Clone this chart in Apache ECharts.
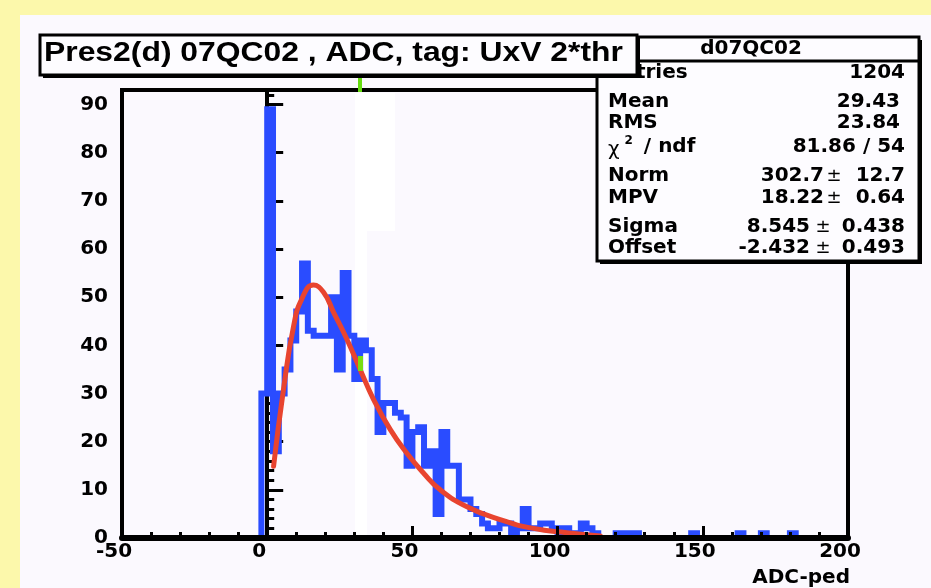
<!DOCTYPE html>
<html>
<head>
<meta charset="utf-8">
<script src="https://cdn.jsdelivr.net/npm/echarts@6/dist/echarts.min.js"></script>
<style>
  html, body { margin: 0; padding: 0; background: #fcf8ab; }
  #histChart { width: 931px; height: 588px; }
</style>
</head>
<body>
<div id="histChart"></div>
<script>
// histogram: 2-unit bins, first bin starts at -2
const binWidth = 2;
const firstBin = -2;
const counts = [
  30, 89, 18, 30, 35, 41, 47, 57, 43, 42,
  42, 42, 50, 35, 55, 42, 33, 41, 39, 33,
  22, 28, 28, 26, 25, 15, 22, 23, 15, 18,
  5, 22, 15, 15, 8, 8, 6, 5, 3, 2,
  2, 3, 3, 1, 2, 6, 2, 2, 3, 3,
  2, 1, 2, 1, 0, 3, 2, 1, 0, 0,
  0, 1, 1, 1, 1, 0, 0, 0, 0, 0,
  0, 0, 0, 0, 1, 0, 0, 0, 0, 0,
  0, 0, 1, 0, 0, 0, 1, 0, 0, 0,
  0, 1
];

// Landau fit curve
const fitX = [2.2, 5.6, 9.1, 11.9, 15.9, 19.4, 22.9, 27.4, 32, 36.6, 42.4, 48.1, 53.8, 59.6, 68.8, 80.2, 91.7, 103.2, 114.7];
const fitY = [14.9, 30.8, 44, 49.6, 52.5, 51, 46.8, 41.3, 35, 28.8, 22.5, 17.6, 13.5, 10, 6.5, 3.8, 2, 1.1, 0.4];

const xTicks = [-50, 0, 50, 100, 150, 200];
const yTicks = [0, 10, 20, 30, 40, 50, 60, 70, 80, 90];

const titleText = "Pres2(d) 07QC02 , ADC, tag: UxV 2*thr";
const statName = "d07QC02";
const statRows = [
  ["Entries", "1204"],
  ["Mean", "29.43"],
  ["RMS", "23.84"],
  ["chi", "81.86 / 54"],
  ["Norm", "302.7", "12.7"],
  ["MPV", "18.22", "0.64"],
  ["Sigma", "8.545", "0.438"],
  ["Offset", "-2.432", "0.493"]
];

const FONT = "DejaVu Sans";
const BLUE = "#2a4cff";
const RED = "#e8442f";

// build step outline points
const histData = [[firstBin, 0]];
counts.forEach((c, i) => {
  histData.push([firstBin + i * binWidth, c]);
});
histData.push([firstBin + counts.length * binWidth, 0]);

const fitData = fitX.map((x, i) => [x, fitY[i]]);

// stats box graphics
const rowY = [73, 102, 123, 147, 176, 198, 227, 248];
const statGraphics = [];
statGraphics.push({
  type: "rect", z: 10,
  shape: { x: 600, y: 40, width: 322, height: 224 },
  style: { fill: "#000" }
});
statGraphics.push({
  type: "rect", z: 11,
  shape: { x: 597, y: 37, width: 322, height: 224 },
  style: { fill: "#fdfcff", stroke: "#000", lineWidth: 3 }
});
statGraphics.push({
  type: "line", z: 12,
  shape: { x1: 597, y1: 61, x2: 919, y2: 61 },
  style: { stroke: "#000", lineWidth: 3 }
});
statGraphics.push({
  type: "text", z: 12,
  style: { text: statName, x: 751, y: 49, font: "bold 20px '" + FONT + "'", fill: "#000", align: "center", verticalAlign: "middle" }
});
statRows.forEach((r, i) => {
  const y = rowY[i];
  const f = "bold 20px '" + FONT + "'";
  if (r[0] === "chi") {
    statGraphics.push({
      type: "text", z: 12,
      style: {
        text: "{g|χ}{s|2}{n| / ndf}", x: 608, y: y, align: "left", verticalAlign: "middle",
        rich: {
          g: { font: "20px '" + FONT + "'", fill: "#000", padding: [6, 0, 0, 0] },
          s: { font: "bold 12px '" + FONT + "'", fill: "#000", padding: [0, 4, 12, 5] },
          n: { font: f, fill: "#000" }
        }
      }
    });
  } else {
    statGraphics.push({
      type: "text", z: 12,
      style: { text: r[0], x: 608, y: y, font: f, fill: "#000", align: "left", verticalAlign: "middle" }
    });
  }
  if (r.length === 2) {
    const right = (i === 1 || i === 2) ? 900 : 905;
    statGraphics.push({
      type: "text", z: 12,
      style: { text: r[1], x: right, y: y, font: f, fill: "#000", align: "right", verticalAlign: "middle" }
    });
  } else {
    const wide = i >= 6;
    statGraphics.push({
      type: "text", z: 12,
      style: { text: r[1], x: wide ? 810 : 824, y: y, font: f, fill: "#000", align: "right", verticalAlign: "middle" }
    });
    statGraphics.push({
      type: "text", z: 12,
      style: { text: "±", x: wide ? 823 : 834, y: y, font: "18px '" + FONT + "'", fill: "#000", align: "center", verticalAlign: "middle" }
    });
    statGraphics.push({
      type: "text", z: 12,
      style: { text: r[2], x: 905, y: y, font: f, fill: "#000", align: "right", verticalAlign: "middle" }
    });
  }
});

const options = {
  animation: false,
  backgroundColor: "#fcf8ab",
  grid: {
    left: 122, right: 83, top: 90, bottom: 50,
    show: true, backgroundColor: "#fbf9fe", borderColor: "#000", borderWidth: 4
  },
  xAxis: {
    type: "value", min: -50, max: 200, interval: 50, z: 5,
    axisLine: { onZero: false, lineStyle: { color: "#000", width: 6 } },
    axisTick: { inside: true, length: 12, lineStyle: { color: "#000", width: 3 } },
    minorTick: { show: true, splitNumber: 5, length: 6, lineStyle: { color: "#000", width: 3 } },
    splitLine: { show: false },
    axisLabel: {
      margin: 4, color: "#000", fontFamily: FONT, fontWeight: "bold", fontSize: 20,
      padding: [0, 16, 0, 0],
      formatter: v => (xTicks.indexOf(v) >= 0 ? String(v) : "")
    }
  },
  yAxis: {
    type: "value", min: 0, max: 93, interval: 10,
    axisLine: { lineStyle: { color: "#000", width: 4 } },
    axisTick: { inside: true, length: 16, lineStyle: { color: "#000", width: 3 } },
    minorTick: { show: true, splitNumber: 5, length: 7, lineStyle: { color: "#000", width: 3 } },
    splitLine: { show: false },
    axisLabel: {
      margin: 14, color: "#000", fontFamily: FONT, fontWeight: "bold", fontSize: 20,
      showMaxLabel: false,
      formatter: v => (yTicks.indexOf(v) >= 0 ? String(v) : "")
    }
  },
  graphic: [
    { type: "rect", z: -1, silent: true, shape: { x: 20, y: 15, width: 911, height: 573 }, style: { fill: "#fbf9fe" } },
    // pale stripe and green specks seen in the original screenshot
    { type: "rect", z: 1, silent: true, shape: { x: 355, y: 93, width: 40, height: 138 }, style: { fill: "#ffffff" } },
    { type: "rect", z: 1, silent: true, shape: { x: 355, y: 231, width: 12, height: 304 }, style: { fill: "#ffffff" } },
    { type: "rect", z: 30, silent: true, shape: { x: 358, y: 78, width: 4, height: 14 }, style: { fill: "#66dd11" } },
    { type: "rect", z: 30, silent: true, shape: { x: 358, y: 356, width: 5, height: 15 }, style: { fill: "#77dd11" } },
    { type: "rect", z: 20, shape: { x: 43, y: 38, width: 597, height: 40 }, style: { fill: "#000" } },
    { type: "rect", z: 21, shape: { x: 40, y: 35, width: 597, height: 40 }, style: { fill: "#fdfcff", stroke: "#000", lineWidth: 3 } },
    {
      type: "text", z: 22, x: 44, y: 54, scaleX: 1.18,
      style: { text: titleText, x: 0, y: 0, font: "bold 27px 'Liberation Sans'", fill: "#000", align: "left", verticalAlign: "middle" }
    },
    {
      type: "text", z: 5,
      style: { text: "ADC-ped", x: 850, y: 578, font: "bold 20px '" + FONT + "'", fill: "#000", align: "right", verticalAlign: "middle" }
    }
  ].concat(statGraphics),
  series: [
    {
      name: "hist", type: "line", step: "end", data: histData,
      showSymbol: false, clip: true,
      lineStyle: { color: BLUE, width: 6, join: "miter" },
      z: 3
    },
    {
      name: "fit", type: "line", smooth: true, data: fitData,
      showSymbol: false, clip: true,
      lineStyle: { color: RED, width: 5, cap: "round" },
      z: 4
    }
  ]
};

const chart = echarts.init(document.getElementById("histChart"), null, { renderer: "canvas" });
chart.setOption(options);
</script>
</body>
</html>
